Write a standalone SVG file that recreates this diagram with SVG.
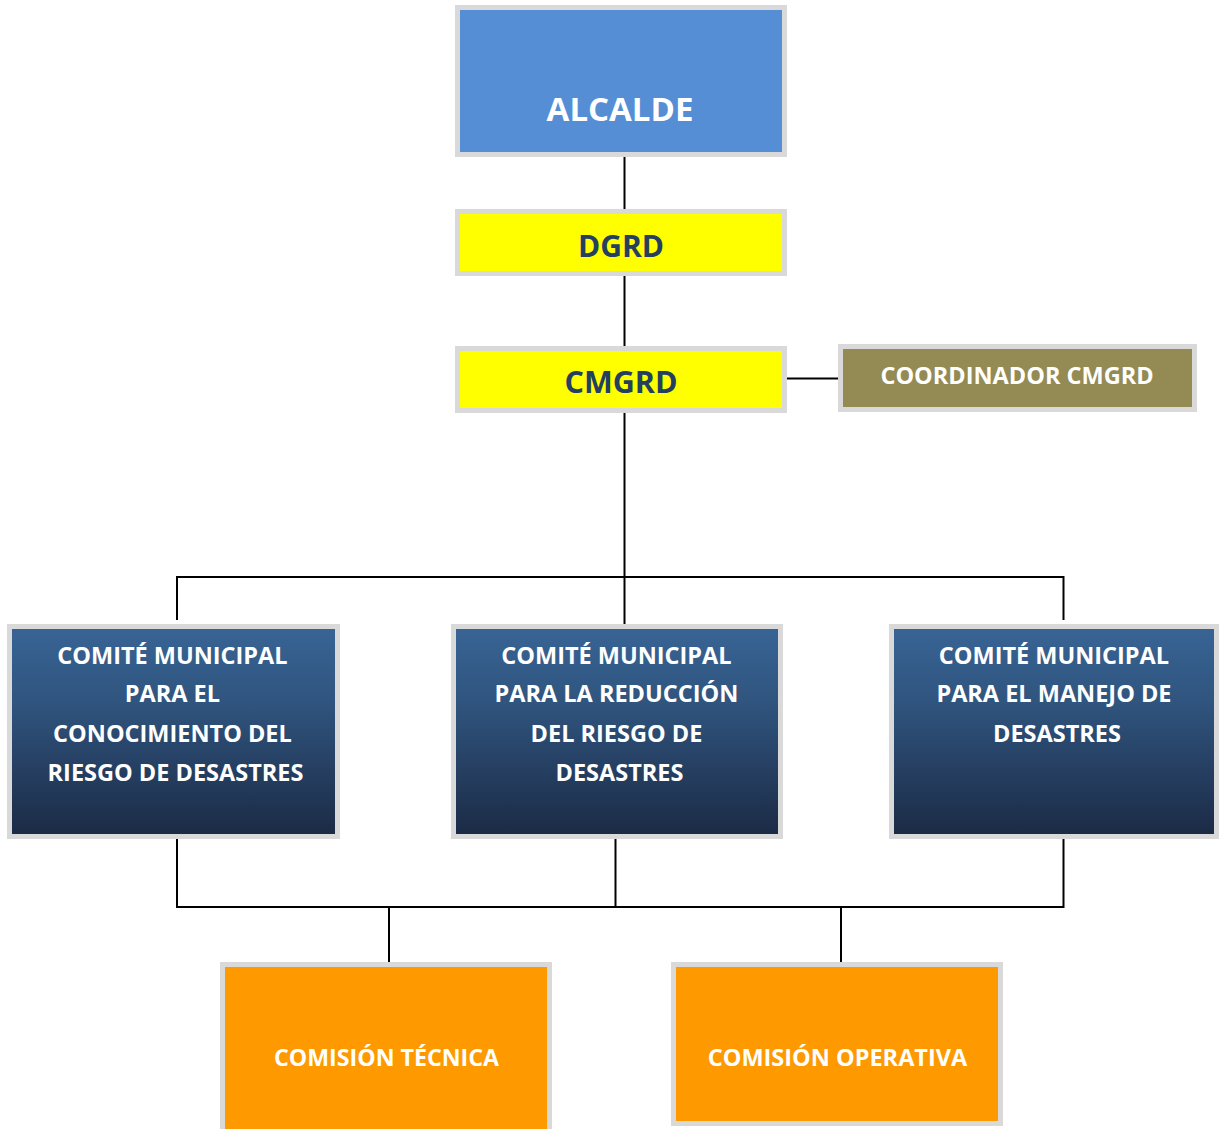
<svg xmlns="http://www.w3.org/2000/svg" width="1219" height="1129" viewBox="0 0 1219 1129">
  <defs>
    <linearGradient id="gBlue" x1="0" y1="0" x2="0" y2="1">
      <stop offset="0" stop-color="#386495"/>
      <stop offset="0.35" stop-color="#30557f"/>
      <stop offset="1" stop-color="#1b2a45"/>
    </linearGradient>
    <style>
      .box { stroke: #d9d9d9; stroke-width: 5; }
      .t { font-family: "Open Sans", "Noto Sans", "DejaVu Sans", sans-serif; font-weight: bold; text-anchor: middle; }
      .w { fill: #ffffff; }
      .d { fill: #243f60; }
      .conn { stroke: #000000; stroke-width: 2; fill: none; }
    </style>
  </defs>
  <rect width="1219" height="1129" fill="#ffffff"/>

  <g id="connectors">
    <line class="conn" x1="624.5" y1="157" x2="624.5" y2="209"/>
    <line class="conn" x1="624.5" y1="276" x2="624.5" y2="346"/>
    <line class="conn" x1="624.5" y1="413" x2="624.5" y2="624"/>
    <line class="conn" x1="787" y1="378.5" x2="838" y2="378.5"/>
    <polyline class="conn" points="177,620 177,577 1063.5,577 1063.5,620"/>
    <polyline class="conn" points="177,839 177,907 1063.5,907 1063.5,839"/>
    <line class="conn" x1="615.5" y1="839" x2="615.5" y2="907"/>
    <line class="conn" x1="389" y1="907" x2="389" y2="962"/>
    <line class="conn" x1="841" y1="907" x2="841" y2="962"/>
  </g>

  <g id="alcalde">
    <rect class="box" x="457.5" y="7.5" width="327" height="147" fill="#558ed5"/>
    <text class="t w" x="620" y="121" font-size="33">ALCALDE</text>
  </g>

  <g id="dgrd">
    <rect class="box" x="457.5" y="211.5" width="327" height="62" fill="#ffff00"/>
    <text class="t d" x="621" y="257" font-size="30">DGRD</text>
  </g>

  <g id="cmgrd">
    <rect class="box" x="457.5" y="348.5" width="327" height="62" fill="#ffff00"/>
    <text class="t d" x="621" y="393" font-size="30.5">CMGRD</text>
  </g>

  <g id="coordinador">
    <rect class="box" x="840.5" y="346.5" width="354" height="63" fill="#948a54"/>
    <text class="t w" x="1017" y="384" font-size="23.5">COORDINADOR CMGRD</text>
  </g>

  <g id="comite-conocimiento">
    <rect class="box" x="9.5" y="626.5" width="328" height="210" fill="url(#gBlue)"/>
    <text class="t w" font-size="23.5">
      <tspan x="175.5" y="664">COMITÉ MUNICIPAL</tspan>
      <tspan x="175.5" y="702">PARA EL</tspan>
      <tspan x="175.5" y="742">CONOCIMIENTO DEL</tspan>
      <tspan x="175.5" y="781">RIESGO DE DESASTRES</tspan>
    </text>
  </g>

  <g id="comite-reduccion">
    <rect class="box" x="453.5" y="626.5" width="327" height="210" fill="url(#gBlue)"/>
    <text class="t w" font-size="23.5">
      <tspan x="619.5" y="664">COMITÉ MUNICIPAL</tspan>
      <tspan x="619.5" y="702">PARA LA REDUCCIÓN</tspan>
      <tspan x="619.5" y="742">DEL RIESGO DE</tspan>
      <tspan x="619.5" y="781">DESASTRES</tspan>
    </text>
  </g>

  <g id="comite-manejo">
    <rect class="box" x="891.5" y="626.5" width="325" height="210" fill="url(#gBlue)"/>
    <text class="t w" font-size="23.5">
      <tspan x="1057" y="664">COMITÉ MUNICIPAL</tspan>
      <tspan x="1057" y="702">PARA EL MANEJO DE</tspan>
      <tspan x="1057" y="742">DESASTRES</tspan>
    </text>
  </g>

  <g id="comision-tecnica">
    <rect class="box" x="222.5" y="964.5" width="327" height="180" fill="#ff9900"/>
    <text class="t w" x="386.5" y="1066" font-size="23.2">COMISIÓN TÉCNICA</text>
  </g>

  <g id="comision-operativa">
    <rect class="box" x="673.5" y="964.5" width="327" height="159" fill="#ff9900"/>
    <text class="t w" x="837.5" y="1066" font-size="23.5">COMISIÓN OPERATIVA</text>
  </g>
</svg>
